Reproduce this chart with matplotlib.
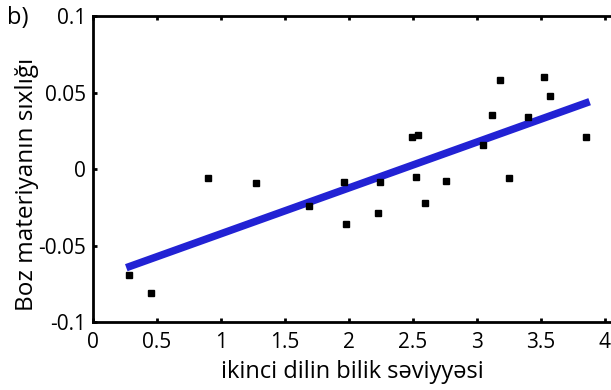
import matplotlib

matplotlib.use("Agg")
import matplotlib.pyplot as plt

# second-language proficiency vs grey matter density
proficiency = [0.28, 0.45, 0.90, 1.27, 1.69, 1.96, 1.98, 2.23, 2.24, 2.49,
               2.52, 2.54, 2.59, 2.76, 3.05, 3.12, 3.18, 3.25, 3.40, 3.52,
               3.57, 3.85]
density = [-0.069, -0.081, -0.006, -0.009, -0.024, -0.0085, -0.036, -0.029,
           -0.0085, 0.021, -0.0055, 0.0225, -0.022, -0.008, 0.016, 0.0355,
           0.058, -0.006, 0.034, 0.060, 0.048, 0.021]

# regression line endpoints
fit_x = [0.26, 3.88]
fit_y = [-0.0645, 0.0440]

x_ticks = [0, 0.5, 1, 1.5, 2, 2.5, 3, 3.5, 4]
x_ticklabels = ["0", "0.5", "1", "1.5", "2", "2.5", "3", "3.5", "4"]
y_ticks = [-0.1, -0.05, 0, 0.05, 0.1]
y_ticklabels = ["-0.1", "-0.05", "0", "0.05", "0.1"]

plt.rcParams["font.family"] = ["Open Sans", "DejaVu Sans"]

fig = plt.figure(figsize=(6.11, 3.90), dpi=100)
ax = fig.add_axes([93 / 611, 68 / 390, 1 - 93 / 611, 306 / 390])

ax.plot(fit_x, fit_y, color="#2222D4", lw=5.4, solid_capstyle="butt", zorder=2)
ax.plot(proficiency, density, ls="none", marker="s", ms=4.6, color="black",
        zorder=3)

ax.set_xlim(0, 4.047)
ax.set_ylim(-0.1, 0.1)
ax.set_xticks(x_ticks)
ax.set_xticklabels(x_ticklabels)
ax.set_yticks(y_ticks)
ax.set_yticklabels(y_ticklabels)
ax.tick_params(direction="in", length=3, width=2, labelsize=15, pad=5,
               top=True, right=False, colors="black")
ax.tick_params(axis="x", pad=7)
ax.spines["right"].set_visible(False)
for side in ("left", "bottom", "top"):
    ax.spines[side].set_linewidth(2)

ax.set_xlabel("ikinci dilin bilik səviyyəsi", fontsize=17, labelpad=5)
ax.set_ylabel("Boz materiyanın sıxlığı", fontsize=17.5)
ax.yaxis.set_label_coords(-0.104, 0.45)
fig.text(7 / 611, 1 - 6 / 390, "b)", fontsize=17, ha="left", va="top")

fig.savefig("out.png", dpi=100)
